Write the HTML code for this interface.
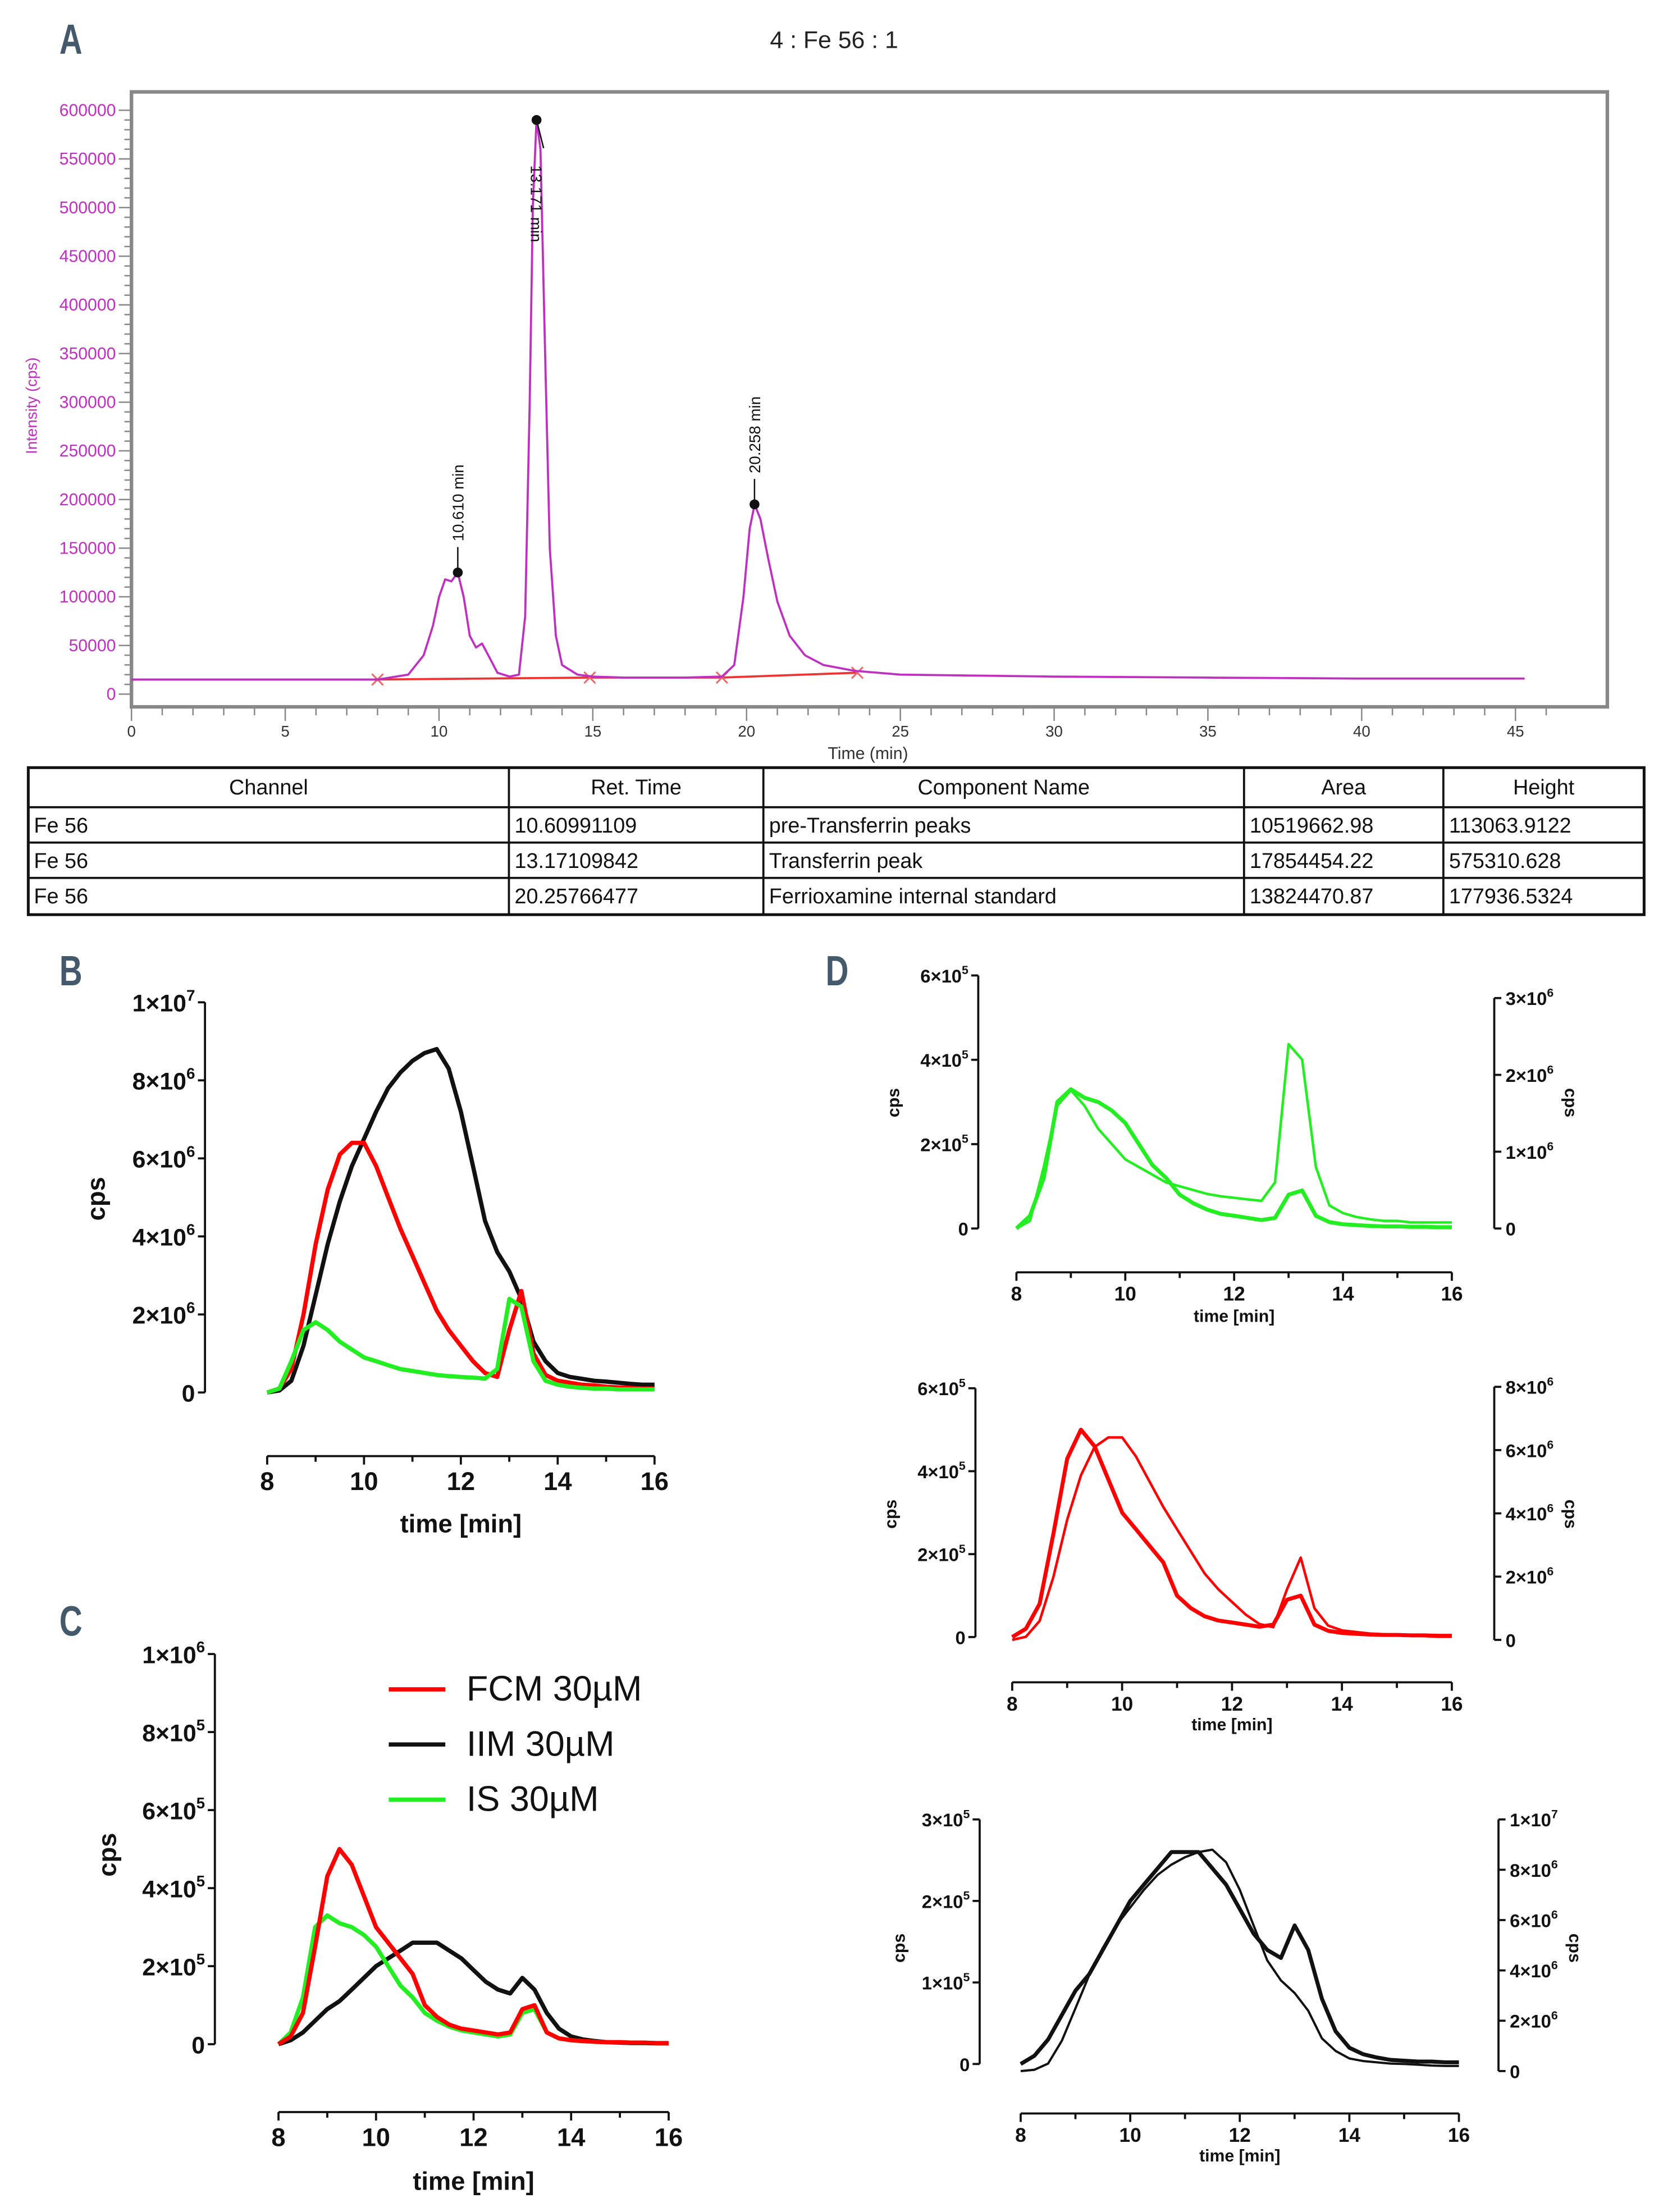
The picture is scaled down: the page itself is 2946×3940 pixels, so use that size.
<!DOCTYPE html>
<html><head><meta charset="utf-8"><style>
html,body{margin:0;padding:0;background:#fff}
svg{display:block}
text{font-family:"Liberation Sans",sans-serif}
</style></head><body>
<svg id="fig" xmlns="http://www.w3.org/2000/svg" width="2946" height="3940" viewBox="0 0 1170 1564.7" preserveAspectRatio="none">
<rect x="0" y="0" width="1170" height="1565" fill="#fff"/>
<g id="root"></g>
</svg>
<script>
// ---------- Panel A data ----------
const aTimes=[0,8,9,9.5,9.8,10.0,10.2,10.4,10.61,10.8,11.0,11.2,11.4,11.6,11.9,12.3,12.6,12.8,12.95,13.05,13.17,13.3,13.45,13.6,13.8,14.0,14.5,15,16,18,19.2,19.6,19.9,20.1,20.26,20.45,20.7,21.0,21.4,21.9,22.5,23.5,25,30,35,40,45.3];
const aIntensity=[15000,15000,20000,40000,70000,100000,118000,116000,125000,100000,60000,48000,52000,40000,22000,18000,20000,80000,300000,500000,590000,560000,350000,150000,60000,30000,20000,18000,17000,17000,18000,30000,100000,170000,195000,180000,140000,95000,60000,40000,30000,24000,20000,18000,17000,16000,16000];
const aYTicks=[0,50000,100000,150000,200000,250000,300000,350000,400000,450000,500000,550000,600000];
const aXTicks=[0,5,10,15,20,25,30,35,40,45];
const aPeakTimes=[10.61,13.171,20.258];
const aPeakValues=[125000,590000,195000];
const aPeakLabels=["10.610 min","13.171 min","20.258 min"];
const aBaseT=[8,14.9,19.2,23.6];
const aBaseV=[15000,17000,17000,22000];
// ---------- Panels B/C/D data ----------
const times=[8,8.25,8.5,8.75,9,9.25,9.5,9.75,10,10.25,10.5,10.75,11,11.25,11.5,11.75,12,12.25,12.5,12.75,13,13.25,13.5,13.75,14,14.25,14.5,14.75,15,15.25,15.5,15.75,16];
// B (x1e6)
const bRed=[0,0.1,0.6,2,3.8,5.2,6.1,6.4,6.4,5.8,5.0,4.2,3.5,2.8,2.1,1.6,1.2,0.8,0.5,0.4,1.6,2.6,1.0,0.45,0.3,0.25,0.2,0.18,0.15,0.13,0.12,0.1,0.1];
const bBlack=[0,0.05,0.3,1.2,2.5,3.8,4.9,5.8,6.5,7.2,7.8,8.2,8.5,8.7,8.8,8.3,7.2,5.8,4.4,3.6,3.1,2.4,1.3,0.8,0.5,0.4,0.35,0.3,0.28,0.25,0.22,0.2,0.2];
const bGreen=[0,0.1,0.8,1.6,1.8,1.6,1.3,1.1,0.9,0.8,0.7,0.6,0.55,0.5,0.45,0.42,0.4,0.38,0.36,0.6,2.4,2.2,0.8,0.3,0.2,0.15,0.12,0.1,0.1,0.08,0.08,0.08,0.08];
// C (x1e5)
const cRed=[0,0.2,0.8,2.5,4.3,5.0,4.6,3.8,3.0,2.6,2.2,1.8,1.0,0.7,0.5,0.4,0.35,0.3,0.25,0.3,0.9,1.0,0.3,0.15,0.1,0.08,0.06,0.05,0.05,0.04,0.04,0.03,0.03];
const cBlack=[0,0.1,0.3,0.6,0.9,1.1,1.4,1.7,2.0,2.2,2.4,2.6,2.6,2.6,2.4,2.2,1.9,1.6,1.4,1.3,1.7,1.4,0.8,0.4,0.2,0.12,0.08,0.05,0.04,0.03,0.03,0.02,0.02];
const cGreen=[0,0.3,1.2,3.0,3.3,3.1,3.0,2.8,2.5,2.0,1.5,1.2,0.8,0.6,0.45,0.35,0.3,0.25,0.2,0.25,0.8,0.9,0.3,0.15,0.1,0.08,0.06,0.05,0.05,0.04,0.04,0.03,0.03];
const xTicks=[8,10,12,14,16];

const NS="http://www.w3.org/2000/svg";
const root=document.getElementById('root');
function mk(tag,attrs,parent){const e=document.createElementNS(NS,tag);for(const k in attrs)e.setAttribute(k,attrs[k]);(parent||root).appendChild(e);return e;}
function txt(x,y,s,attrs,parent){const e=mk('text',Object.assign({x:x,y:y},attrs),parent);e.textContent=s;return e;}
function sci(x,y,mant,exp,attrs,fs){const e=mk('text',Object.assign({x:x,y:y},attrs));const t1=document.createElementNS(NS,'tspan');t1.textContent=mant+"×10";e.appendChild(t1);const t2=document.createElementNS(NS,'tspan');t2.setAttribute('dy',-fs*0.45);t2.setAttribute('font-size',fs*0.65);t2.textContent=exp;e.appendChild(t2);return e;}

// ===== Panel A =====
const ax=t=>93+t*(1072-93)/45, ay=v=>491-v*(491-78)/600000;
let e;
e=txt(42,38,"A",{'font-size':30,'font-weight':'bold',fill:'#44596b','transform':'scale(0.75,1)','style':'transform-box:fill-box;transform-origin:left'});

e=txt(590,34,"4 : Fe 56 : 1",{'font-size':17,'text-anchor':'middle',fill:'#222'});

e=mk('rect',{x:93,y:65,width:1044,height:435,fill:'none',stroke:'#888','stroke-width':2.5});

e=txt(0,0,"Intensity (cps)",{'font-size':11,fill:'#c030c0','text-anchor':'middle',transform:'translate(26,287) rotate(-90)'});

for(let v=0;v<=600000;v+=10000){const y=ay(v);const l=mk('line',{x1:v%50000==0?84:88,x2:92,y1:y,y2:y,stroke:'#888','stroke-width':1});}
aYTicks.forEach(v=>{e=txt(82,ay(v)+4,String(v),{'font-size':12,fill:'#c030c0','text-anchor':'end'});});
for(let t=0;t<=46;t+=1){const x=ax(t);const l=mk('line',{x1:x,x2:x,y1:500,y2:t%5==0?510:506,stroke:'#888','stroke-width':1});}
aXTicks.forEach(t=>{e=txt(ax(t),521,String(t),{'font-size':11,fill:'#333','text-anchor':'middle'});});
e=txt(614,537,"Time (min)",{'font-size':12,fill:'#333','text-anchor':'middle'});

e=mk('polyline',{points:aBaseT.map((t,i)=>ax(t)+','+ay(aBaseV[i])).join(' '),fill:'none',stroke:'#e33','stroke-width':1.5});

aBaseT.forEach((t,i)=>{const x=ax(t),y=ay(aBaseV[i]);const m=mk('path',{d:`M${x-4},${y-4}L${x+4},${y+4}M${x-4},${y+4}L${x+4},${y-4}`,stroke:'#e66','stroke-width':1.2});});
e=mk('polyline',{points:aTimes.map((t,i)=>ax(t).toFixed(1)+','+ay(aIntensity[i]).toFixed(1)).join(' '),fill:'none',stroke:'#c030c0','stroke-width':1.5,'stroke-linejoin':'round'});

aPeakTimes.forEach((t,i)=>{const x=ax(t),y=ay(aPeakValues[i]);
 const c=mk('circle',{cx:x,cy:y,r:3.5,fill:'#111'});
 let tx;
 if(i!==1){const l=mk('line',{x1:x,x2:x,y1:y,y2:y-18,stroke:'#111'});
  tx=txt(0,0,aPeakLabels[i],{'font-size':11,fill:'#111',transform:`translate(${x+4},${y-22}) rotate(-90)`});}
 else{const l=mk('line',{x1:x,x2:x+5,y1:y,y2:y+20,stroke:'#111'});
  tx=txt(0,0,aPeakLabels[i],{'font-size':11,fill:'#111',transform:`translate(${x-4},${y+32}) rotate(90)`});}
 });

// Table
const colX=[20,360,540,880,1021,1163], rowY=[543,571,596,621,647];
const tableRows=[["Channel","Ret. Time","Component Name","Area","Height"],["Fe 56","10.60991109","pre-Transferrin peaks","10519662.98","113063.9122"],["Fe 56","13.17109842","Transferrin peak","17854454.22","575310.628"],["Fe 56","20.25766477","Ferrioxamine internal standard","13824470.87","177936.5324"]];
e=mk('rect',{x:20,y:543,width:1143,height:104,fill:'none',stroke:'#111','stroke-width':2});

colX.slice(1,5).forEach(x=>{const l=mk('line',{x1:x,x2:x,y1:543,y2:647,stroke:'#111','stroke-width':1.5});});
rowY.slice(1,4).forEach(y=>{const l=mk('line',{x1:20,x2:1163,y1:y,y2:y,stroke:'#111','stroke-width':1.5});});
tableRows.forEach((r,ri)=>r.forEach((s,ci)=>{const hdr=ri===0;const x=hdr?(colX[ci]+colX[ci+1])/2:colX[ci]+4;const t=txt(x,rowY[ri]+(hdr?19:18),s,{'font-size':15,fill:'#111','text-anchor':hdr?'middle':'start'});}));

// ===== Generic chart helper =====
function panelLabel(x,y,s){const t=txt(x,y,s,{'font-size':30,'font-weight':'bold',fill:'#44596b','transform':'scale(0.75,1)','style':'transform-box:fill-box;transform-origin:left'});}
function curve(xf,yf,vals,color,w,name){const p=mk('polyline',{points:times.map((t,i)=>xf(t).toFixed(1)+','+yf(vals[i]).toFixed(1)).join(' '),fill:'none',stroke:color,'stroke-width':w,'stroke-linejoin':'round'});}
function xAxis(x8,x16,y,fs,titleY,titleFs){const xf=t=>x8+(t-8)*(x16-x8)/8;
 let l=mk('line',{x1:x8,x2:x16,y1:y,y2:y,stroke:'#111','stroke-width':1.5});
 for(let t=8;t<=16;t+=1){const k=mk('line',{x1:xf(t),x2:xf(t),y1:y,y2:y+(t%2==0?6:4),stroke:'#111','stroke-width':1.5});}
 xTicks.forEach(t=>{const tl=txt(xf(t),y+6+fs,String(t),{'font-size':fs,'font-weight':'bold','text-anchor':'middle',fill:'#111'});});
 const tt=txt((x8+x16)/2,titleY,"time [min]",{'font-size':titleFs,'font-weight':'bold','text-anchor':'middle',fill:'#111'});return xf;}
function yAxis(x,y0,yTop,ticks,labels,fs,right,name){
 const l=mk('line',{x1:x,x2:x,y1:y0,y2:yTop,stroke:'#111','stroke-width':1.5});
 const n=ticks.length-1;ticks.forEach((v,i)=>{const y=y0-(y0-yTop)*i/n;const k=mk('line',{x1:x,x2:right?x+5:x-5,y1:y,y2:y,stroke:'#111','stroke-width':1.5});
  const lb=labels[i];let t;if(lb[1]===null){t=txt(right?x+8:x-7,y+fs*0.38,lb[0],{'font-size':fs,'font-weight':'bold','text-anchor':right?'start':'end',fill:'#111'});}
  else{t=sci(right?x+8:x-7,y+fs*0.38,lb[0],lb[1],{'font-size':fs,'font-weight':'bold','text-anchor':right?'start':'end',fill:'#111'},fs);}
  });}
function cps(x,y,fs,rot){const t=txt(0,0,"cps",{'font-size':fs,'font-weight':'bold','text-anchor':'middle',fill:'#111',transform:`translate(${x},${y}) rotate(${rot})`});}

// ===== Panel B =====
panelLabel(42,697,"B");
{const y0=985,yT=709;const yf=v=>y0-v*(y0-yT)/10;
 yAxis(145,y0,yT,[0,2,4,6,8,10],[["0",null],["2","6"],["4","6"],["6","6"],["8","6"],["1","7"]],17,false,'b-y-axis');
 cps(74,848,18,-90);
 const xf=xAxis(189,463,1030,18,1084,18);
 curve(xf,yf,bBlack,'#111',3,'b-iim-line');curve(xf,yf,bRed,'#f00',3,'b-fcm-line');curve(xf,yf,bGreen,'#2e2',3,'b-is-line');}

// ===== Panel C =====
panelLabel(42,1157,"C");
{const y0=1446,yT=1170;const yf=v=>y0-v*(y0-yT)/10;
 yAxis(152,y0,yT,[0,2,4,6,8,10],[["0",null],["2","5"],["4","5"],["6","5"],["8","5"],["1","6"]],17,false,'c-y-axis');
 cps(82,1312,18,-90);
 const xf=xAxis(197,473,1494,18,1549,18);
 curve(xf,yf,cBlack,'#111',3,'c-iim-line');curve(xf,yf,cGreen,'#2e2',3,'c-is-line');curve(xf,yf,cRed,'#f00',3,'c-fcm-line');
 const leg=[["FCM 30µM",'#f00'],["IIM 30µM",'#111'],["IS 30µM",'#2e2']];
 leg.forEach((L,i)=>{const y=1195+i*39;const l=mk('line',{x1:275,x2:315,y1:y,y2:y,stroke:L[1],'stroke-width':3});
  const t=txt(330,y+8,L[0],{'font-size':25,fill:'#111'});});}

// ===== Panel D =====
panelLabel(584,697,"D");
{// D1 green
 const y0=869,yT=690;const yl=v=>y0-v*(y0-yT)/6;const yr=v=>869-v*(869-706)/3;
 yAxis(692,y0,yT,[0,2,4,6],[["0",null],["2","5"],["4","5"],["6","5"]],13,false,'d1-left-axis');
 yAxis(1057,869,706,[0,1,2,3],[["0",null],["1","6"],["2","6"],["3","6"]],13,true,'d1-right-axis');
 cps(636,780,12,-90);cps(1107,780,12,90);
 const xf=xAxis(719,1027,900,14,935,12);
 curve(xf,yr,bGreen,'#2e2',1.8,'d1-is-right-line');curve(xf,yl,cGreen,'#2e2',2.8,'d1-is-left-line');}
{// D2 red
 const y0=1158,yT=982;const yl=v=>y0-v*(y0-yT)/6;const yr=v=>1160-v*(1160-981)/8;
 yAxis(690,y0,yT,[0,2,4,6],[["0",null],["2","5"],["4","5"],["6","5"]],13,false,'d2-left-axis');
 yAxis(1057,1160,981,[0,2,4,6,8],[["0",null],["2","6"],["4","6"],["6","6"],["8","6"]],13,true,'d2-right-axis');
 cps(634,1071,12,-90);cps(1107,1071,12,90);
 const xf=xAxis(716,1027,1190,14,1224,12);
 curve(xf,yr,bRed,'#f00',1.8,'d2-fcm-right-line');curve(xf,yl,cRed,'#f00',2.8,'d2-fcm-left-line');}
{// D3 black
 const y0=1460,yT=1287;const yl=v=>y0-v*(y0-yT)/3;const yr=v=>1465-v*(1465-1287)/10;
 yAxis(693,y0,yT,[0,1,2,3],[["0",null],["1","5"],["2","5"],["3","5"]],13,false,'d3-left-axis');
 yAxis(1060,1465,1287,[0,2,4,6,8,10],[["0",null],["2","6"],["4","6"],["6","6"],["8","6"],["1","7"]],13,true,'d3-right-axis');
 cps(640,1378,12,-90);cps(1110,1378,12,90);
 const xf=xAxis(722,1032,1495,14,1529,12);
 curve(xf,yr,bBlack,'#111',1.6,'d3-iim-right-line');curve(xf,yl,cBlack,'#111',2.8,'d3-iim-left-line');}
</script>
</body></html>
